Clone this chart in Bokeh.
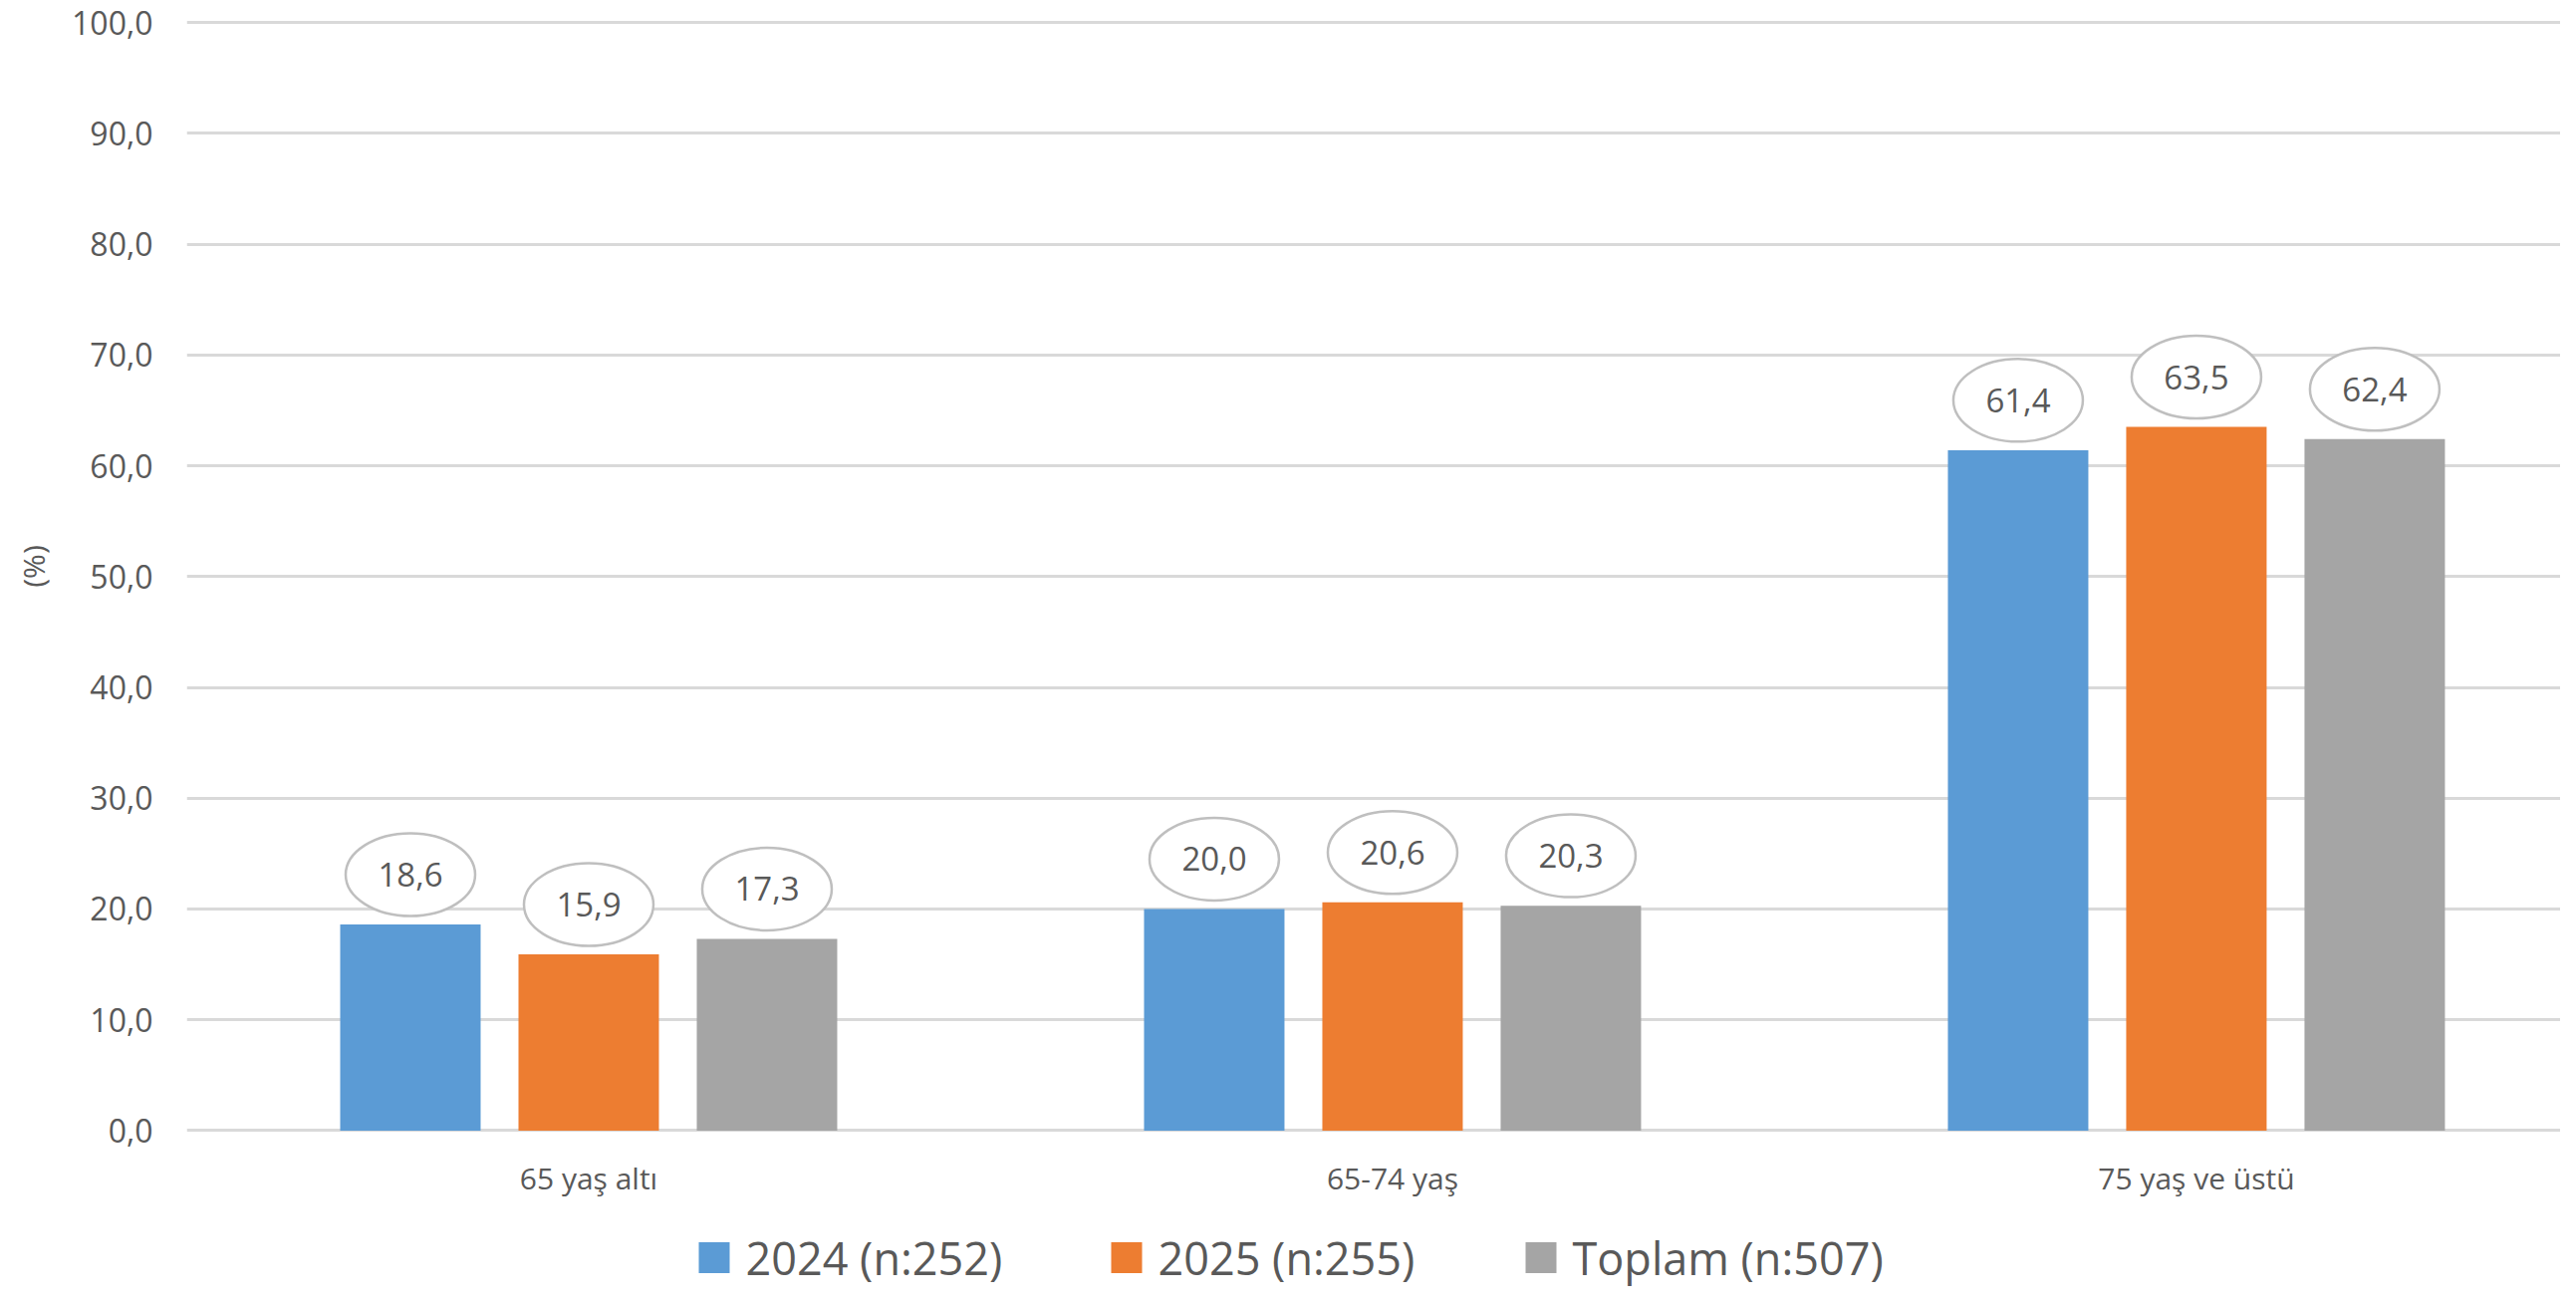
from bokeh.plotting import figure
from bokeh.layouts import column
from bokeh.models import ColumnDataSource, FixedTicker, Range1d
from bokeh.core.properties import value
from bokeh.embed import file_html
from bokeh.resources import INLINE

categories = ["65 yaş altı", "65-74 yaş", "75 yaş ve üstü"]
series_names = ["2024 (n:252)", "2025 (n:255)", "Toplam (n:507)"]
values_2024 = [18.6, 20.0, 61.4]
values_2025 = [15.9, 20.6, 63.5]
values_total = [17.3, 20.3, 62.4]
y_ticks = [0, 10, 20, 30, 40, 50, 60, 70, 80, 90, 100]
y_tick_labels = ["0,0", "10,0", "20,0", "30,0", "40,0", "50,0", "60,0", "70,0", "80,0", "90,0", "100,0"]
colors = ["#5B9BD5", "#ED7D31", "#A5A5A5"]

FONT = "Open Sans"
TXT = "#595959"
W = 2570
H_MAIN = 1222
H_LEG = 72
LEFT = 187

p = figure(width=W, height=H_MAIN,
           x_range=Range1d(0, 2.953), y_range=Range1d(-0.135, 101.978),
           output_backend="svg", toolbar_location=None,
           min_border_left=LEFT, min_border_right=0, min_border_top=0, min_border_bottom=86)
p.outline_line_color = None
p.background_fill_color = "white"
p.border_fill_color = "white"

x_center = [i + 0.5 for i in range(len(categories))]
offsets = [-0.2218, 0.0, 0.2218]
bar_w = 0.1747
label_gap = 4.5  # data units between bar top and label ellipse center

series = [values_2024, values_2025, values_total]
for name, vals, off, col in zip(series_names, series, offsets, colors):
    src = ColumnDataSource(dict(
        x=[c + off for c in x_center],
        top=vals,
        ly=[v + label_gap for v in vals],
        txt=[f"{v:.1f}".replace(".", ",") for v in vals],
    ))
    p.vbar(x="x", top="top", bottom=0, width=bar_w, source=src, fill_color=col, line_color=None)
    p.ellipse(x="x", y="ly", width=130, height=83, width_units="screen", height_units="screen",
              source=src, fill_color="white", line_color="#BFBFBF", line_width=2.5)
    p.text(x="x", y="ly", text="txt", source=src, text_align="center", text_baseline="middle",
           text_font=value(FONT), text_font_size="33px", text_color=TXT)

# y axis
p.yaxis.ticker = FixedTicker(ticks=y_ticks)
p.yaxis.major_label_overrides = {t: l for t, l in zip(y_ticks, y_tick_labels)}
p.yaxis.axis_line_color = None
p.yaxis.major_tick_line_color = None
p.yaxis.major_tick_out = 0
p.yaxis.minor_tick_line_color = None
p.yaxis.minor_tick_out = 0
p.yaxis.major_label_text_font = FONT
p.yaxis.major_label_text_font_size = "32px"
p.yaxis.major_label_text_color = TXT
p.yaxis.major_label_standoff = 34
p.yaxis.axis_label = "(%)"
p.yaxis.axis_label_text_font = FONT
p.yaxis.axis_label_text_font_size = "30px"
p.yaxis.axis_label_text_font_style = "normal"
p.yaxis.axis_label_text_color = TXT
p.yaxis.axis_label_standoff = 15

p.ygrid.ticker = FixedTicker(ticks=y_ticks)
p.ygrid.grid_line_color = "#D9D9D9"
p.ygrid.grid_line_width = 3
p.xgrid.grid_line_color = None

# x axis
p.xaxis.ticker = FixedTicker(ticks=x_center)
p.xaxis.major_label_overrides = {t: c for t, c in zip(x_center, categories)}
p.xaxis.axis_line_color = None
p.xaxis.major_tick_line_color = None
p.xaxis.major_tick_out = 0
p.xaxis.minor_tick_line_color = None
p.xaxis.minor_tick_out = 0
p.xaxis.major_label_text_font = FONT
p.xaxis.major_label_text_font_size = "30px"
p.xaxis.major_label_text_color = TXT
p.xaxis.major_label_standoff = 25

# legend strip (pixel-unit ranges, frame aligned with the chart above)
leg = figure(width=W, height=H_LEG, x_range=Range1d(LEFT, W), y_range=Range1d(0, H_LEG),
             output_backend="svg", toolbar_location=None, x_axis_type=None, y_axis_type=None,
             min_border_left=LEFT, min_border_right=0, min_border_top=0, min_border_bottom=0)
leg.outline_line_color = None
leg.xgrid.grid_line_color = None
leg.ygrid.grid_line_color = None
leg_x = [701, 1115, 1531]
sq = 31
mid_y = 32  # item centre, px from strip bottom
leg_src = ColumnDataSource(dict(
    sx=[x + sq / 2 for x in leg_x],
    tx=[x + sq + 16 for x in leg_x],
    y=[mid_y] * len(leg_x),
    c=colors,
    name=series_names,
))
leg.rect(x="sx", y="y", width=sq, height=sq, source=leg_src, fill_color="c", line_color=None)
leg.text(x="tx", y="y", text="name", source=leg_src, text_align="left", text_baseline="middle",
         text_font=value(FONT), text_font_size="45px", text_color=TXT)

layout = column(p, leg, spacing=0)
open("out.html", "w").write(file_html(layout, INLINE))
